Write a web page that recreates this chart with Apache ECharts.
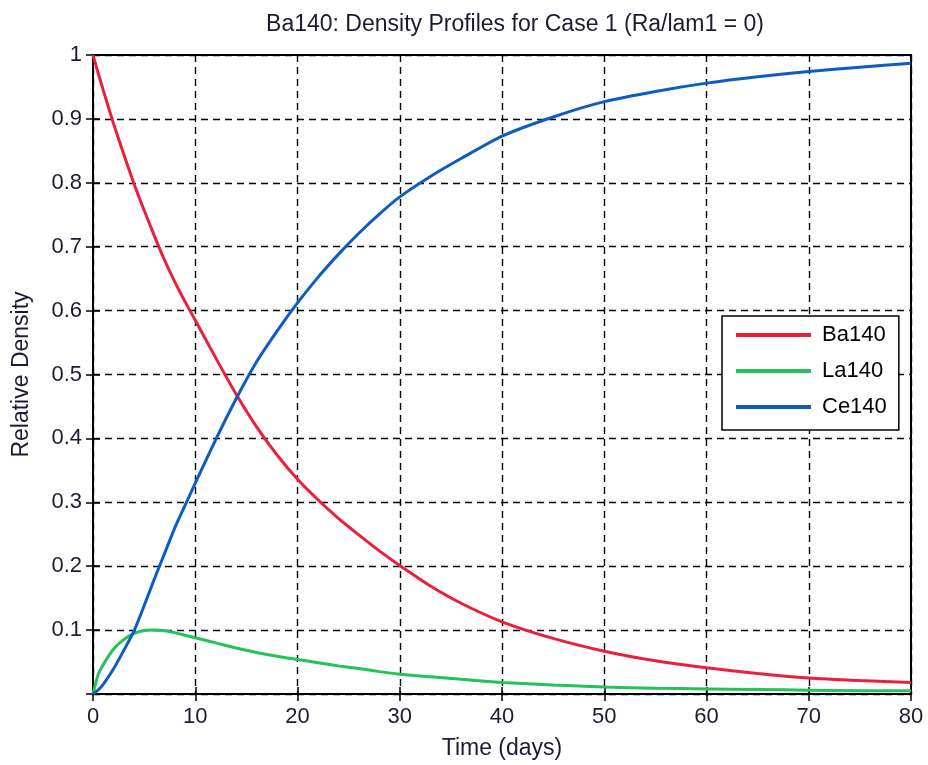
<!DOCTYPE html>
<html>
<head>
<meta charset="utf-8">
<script src="https://cdn.jsdelivr.net/npm/echarts@6/dist/echarts.min.js"></script>
<style>
html,body{margin:0;padding:0;background:#fff;}
#chart{width:928px;height:765px;}
</style>
</head>
<body>
<div id="chart"></div>
<script>
const timeDays = [0,0.5,1,2,3,4,5,6,7,8,9,10,12,14,16,18,20,22,24,26,28,30,33,36,40,45,50,55,60,65,70,75,80];
const ba140 = [1.0,0.972,0.945,0.893,0.845,0.799,0.757,0.717,0.679,0.645,0.614,0.585,0.526,0.469,0.418,0.374,0.336,0.304,0.275,0.249,0.224,0.201,0.169,0.142,0.113,0.087,0.067,0.052,0.041,0.032,0.025,0.021,0.018];
const la140 = [0.0,0.03,0.046,0.07,0.085,0.095,0.0995,0.1,0.099,0.096,0.092,0.088,0.08,0.072,0.065,0.059,0.054,0.049,0.044,0.04,0.035,0.031,0.027,0.023,0.018,0.014,0.011,0.009,0.008,0.007,0.006,0.005,0.005];
const ce140 = [0.0,0.006,0.015,0.039,0.068,0.098,0.138,0.18,0.22,0.26,0.295,0.33,0.398,0.462,0.52,0.568,0.612,0.652,0.688,0.721,0.751,0.778,0.81,0.838,0.873,0.903,0.927,0.943,0.956,0.966,0.974,0.981,0.987];
const seriesNames = ['Ba140','La140','Ce140'];
const seriesColors = ['#ec1f3b','#23c25a','#0d5cc4'];
const xTicks = {min:0, max:80, interval:10};
const yTicks = {min:0, max:1, interval:0.1};

const pairs = vals => timeDays.map((t,i)=>[t, vals[i]]);
const allVals = [ba140, la140, ce140];

const txt = '#1b1b35';
const font = '"Liberation Sans", Arial, sans-serif';
const chart = echarts.init(document.getElementById('chart'), null, {renderer:'canvas'});
const gridLine = {show:true, lineStyle:{color:'#000', type:[7,5], width:1.4}};
chart.setOption({
  animation:false,
  backgroundColor:'#fff',
  title:{
    text:'Ba140: Density Profiles for Case 1 (Ra/lam1 = 0)',
    left:510, top:8, textAlign:'center',
    textStyle:{fontFamily:font, fontSize:23, fontWeight:'normal', color:txt}
  },
  grid:{left:93, right:17, top:55, bottom:70, show:true, borderColor:'#000', borderWidth:2, backgroundColor:'transparent'},
  legend:{
    orient:'vertical', left:722, top:316,
    data:seriesNames,
    icon:'rect', itemWidth:75, itemHeight:4, itemGap:14,
    padding:[8,12,12,14],
    borderColor:'#000', borderWidth:1.5, backgroundColor:'#fff',
    textStyle:{fontFamily:font, fontSize:22, color:'#000', padding:[0,0,0,6]}
  },
  xAxis:[{
    type:'value', min:xTicks.min, max:xTicks.max, interval:xTicks.interval,
    name:'Time (days)', nameLocation:'middle', nameGap:43,
    nameTextStyle:{fontFamily:font, fontSize:23, color:txt},
    axisLine:{show:true, lineStyle:{color:'#000', width:2}},
    axisTick:{show:true, inside:true, length:7, lineStyle:{color:'#000', width:1.5}},
    axisLabel:{fontFamily:font, fontSize:22, color:txt, margin:12},
    splitLine:gridLine
  },{
    type:'value', position:'top', min:xTicks.min, max:xTicks.max, interval:xTicks.interval,
    axisLine:{show:true, lineStyle:{color:'#000', width:2}},
    axisTick:{show:true, inside:true, length:7, lineStyle:{color:'#000', width:1.5}},
    axisLabel:{show:false}, splitLine:{show:false}
  }],
  yAxis:[{
    type:'value', min:yTicks.min, max:yTicks.max, interval:yTicks.interval,
    name:'Relative Density', nameLocation:'middle', nameGap:60, nameRotate:90,
    nameTextStyle:{fontFamily:font, fontSize:23, color:txt},
    axisLine:{show:true, lineStyle:{color:'#000', width:2}},
    axisTick:{show:true, inside:true, length:7, lineStyle:{color:'#000', width:1.5}},
    axisLabel:{fontFamily:font, fontSize:22, color:txt, margin:11,
      formatter:v => (Math.abs(v) < 1e-9 ? '' : String(+v.toFixed(1)))},
    splitLine:gridLine
  },{
    type:'value', position:'right', min:yTicks.min, max:yTicks.max, interval:yTicks.interval,
    axisLine:{show:true, lineStyle:{color:'#000', width:2}},
    axisTick:{show:true, inside:true, length:7, lineStyle:{color:'#000', width:1.5}},
    axisLabel:{show:false}, splitLine:{show:false}
  }],
  series: seriesNames.map((n,i)=>({
    name:n, type:'line', xAxisIndex:0, yAxisIndex:0,
    data:pairs(allVals[i]), showSymbol:false, symbol:'none', smooth:0.2,
    lineStyle:{color:seriesColors[i], width:3}, itemStyle:{color:seriesColors[i]},
    z:3
  }))
});
</script>
</body>
</html>
